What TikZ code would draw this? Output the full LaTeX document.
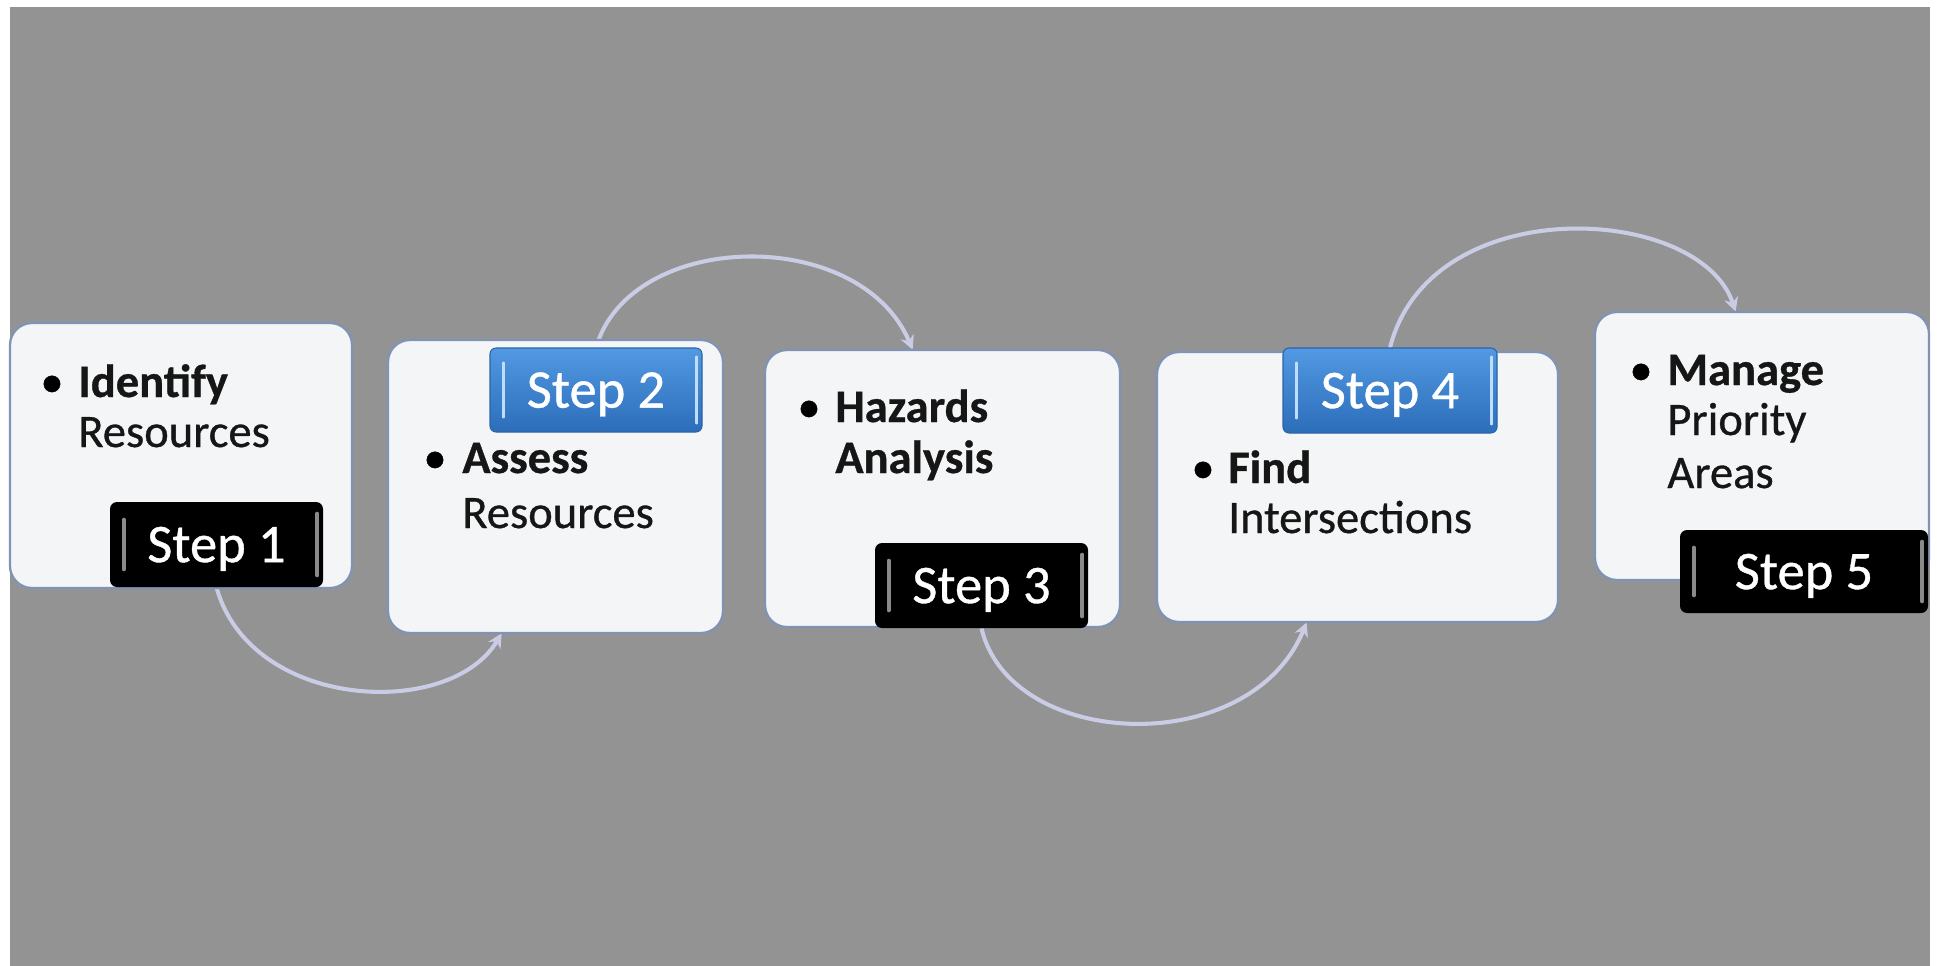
\documentclass[tikz,border=0pt]{standalone}
\usepackage{fontspec}
\setmainfont{Carlito}
\newfontfamily\thickfam{Carlito}[FakeBold=0.7]
\usetikzlibrary{arrows.meta,calc}
\definecolor{bggray}{HTML}{939393}
\definecolor{boxfill}{HTML}{F4F5F7}
\definecolor{boxedge}{HTML}{7F93B5}
\definecolor{bodyink}{HTML}{161616}
\definecolor{flowcol}{HTML}{C9CCE4}
\definecolor{tagbluetop}{HTML}{5299E2}
\definecolor{tagbluebot}{HTML}{2C6DB9}
\definecolor{tagblueedge}{HTML}{2A64A8}
\definecolor{blueshine}{HTML}{BFDDFF}
\definecolor{blackshine}{HTML}{8A8A8A}
\newcommand\mybodyfont{\thickfam\fontsize{26.5}{30}\selectfont}
\newcommand\mytagfont{\thickfam\fontsize{31}{34}\selectfont}
\begin{document}
\begin{tikzpicture}[x=0.02cm,y=-0.02cm,
  stepbox/.style={draw=boxedge, line width=1.3pt, fill=boxfill, rounded corners=0.44cm, inner sep=0pt},
  blacktag/.style={fill=black, rounded corners=0.14cm, text=white, font=\mytagfont, inner sep=0pt, text depth=0pt},
  bluetag/.style={top color=tagbluetop, bottom color=tagbluebot, draw=tagblueedge, line width=0.6pt, rounded corners=0.12cm, text=white, font=\mytagfont, inner sep=0pt, text depth=0pt},
  bshine/.style={draw=blackshine, line width=2.2pt, line cap=round},
  lshine/.style={draw=blueshine, line width=2.2pt, line cap=round},
  bodytext/.style={anchor=base west, inner sep=0pt, font=\mybodyfont, text=bodyink},
  bulletmark/.style={anchor=base, inner sep=0pt, font=\mybodyfont, text=black},
  flow/.style={draw=flowcol, line width=2.3pt, -{Stealth[length=8pt,width=8pt]}}
]
\useasboundingbox (0,0) rectangle (1939,966);
\fill[white] (0,0) rectangle (1939,966);
\fill[bggray] (10,7) rectangle (1930,966);

\path (181,455.5) coordinate (c1) (555.5,486.5) coordinate (c2) (942.5,488.5) coordinate (c3)
      (1357.5,487) coordinate (c4) (1762,446) coordinate (c5);

% invisible placeholders that give the anchors of boxes and tags
\node[inner sep=0pt, minimum width=342*0.02cm, minimum height=265*0.02cm] (B1) at (c1) {};
\node[inner sep=0pt, minimum width=335*0.02cm, minimum height=293*0.02cm] (B2) at (c2) {};
\node[inner sep=0pt, minimum width=355*0.02cm, minimum height=277*0.02cm] (B3) at (c3) {};
\node[inner sep=0pt, minimum width=401*0.02cm, minimum height=270*0.02cm] (B4) at (c4) {};
\node[inner sep=0pt, minimum width=334*0.02cm, minimum height=268*0.02cm] (B5) at (c5) {};
\node[inner sep=0pt, minimum width=213*0.02cm, minimum height=85*0.02cm] (L1) at (216.5,544.5) {};
\node[inner sep=0pt, minimum width=212*0.02cm, minimum height=84*0.02cm] (L2) at (596,390) {};
\node[inner sep=0pt, minimum width=213*0.02cm, minimum height=85*0.02cm] (L3) at (981.5,585.5) {};
\node[inner sep=0pt, minimum width=214*0.02cm, minimum height=85*0.02cm] (L4) at (1390,390.5) {};
\node[inner sep=0pt, minimum width=248*0.02cm, minimum height=83*0.02cm] (L5) at (1804,571.5) {};

% connectors
\draw[flow] (L1.south) .. controls +(34,123) and +(-52,87) .. ($(B2.south west)+(114,0)$);
\draw[flow] (L2.north) .. controls +(34,-118) and +(-53,-125) .. ($(B3.north west)+(148,0)$);
\draw[flow] (L3.south) .. controls +(29,122) and +(-57,138) .. ($(B4.south west)+(150,0)$);
\draw[flow] (L4.north) .. controls +(40,-158) and +(-36,-108) .. ($(B5.north west)+(141,0)$);

% boxes
\node[stepbox, minimum width=342*0.02cm, minimum height=265*0.02cm] (S1) at (c1) {};
\node[stepbox, minimum width=335*0.02cm, minimum height=293*0.02cm] (S2) at (c2) {};
\node[stepbox, minimum width=355*0.02cm, minimum height=277*0.02cm] (S3) at (c3) {};
\node[stepbox, minimum width=401*0.02cm, minimum height=270*0.02cm] (S4) at (c4) {};
\node[stepbox, minimum width=334*0.02cm, minimum height=268*0.02cm] (S5) at (c5) {};

% tags
\node[blacktag, minimum width=213*0.02cm, minimum height=85*0.02cm] (T1) at (L1) {Step 1};
\node[bluetag, minimum width=212*0.02cm, minimum height=84*0.02cm] (T2) at (L2) {Step 2};
\node[blacktag, minimum width=213*0.02cm, minimum height=85*0.02cm] (T3) at (L3) {Step 3};
\node[bluetag, minimum width=214*0.02cm, minimum height=85*0.02cm] (T4) at (L4) {Step 4};
\node[blacktag, minimum width=248*0.02cm, minimum height=83*0.02cm] (T5) at (L5) {Step 5};

% shines
\foreach \t in {T1,T3,T5}{
  \draw[bshine] ($(\t.north west)+(14,18)$) -- ($(\t.south west)+(14,-18)$);
  \draw[bshine] ($(\t.north east)+(-6,12)$) -- ($(\t.south east)+(-6,-12)$);
}
\foreach \t in {T2,T4}{
  \draw[lshine] ($(\t.north west)+(14,16)$) -- ($(\t.south west)+(14,-16)$);
  \draw[lshine] ($(\t.north east)+(-6,10)$) -- ($(\t.south east)+(-6,-10)$);
}

% texts
\node[bulletmark] (u1) at (52,397) {\textbullet};
\node[bodytext] (a1) at (78,397) {\textbf{Identify}};
\node[bodytext] (b1) at (78,447) {Resources};

\node[bulletmark] (u2) at (435,473) {\textbullet};
\node[bodytext] (a2) at (462,473) {\textbf{Assess}};
\node[bodytext] (b2) at (462,528) {Resources};

\node[bulletmark] (u3) at (809,422) {\textbullet};
\node[bodytext] (a3) at (835,422) {\textbf{Hazards}};
\node[bodytext] (b3) at (835,473) {\textbf{Analysis}};

\node[bulletmark] (u4) at (1203,483) {\textbullet};
\node[bodytext] (a4) at (1228,483) {\textbf{Find}};
\node[bodytext] (b4) at (1228,533) {Intersections};

\node[bulletmark] (u5) at (1641,385) {\textbullet};
\node[bodytext] (a5) at (1667,385) {\textbf{Manage}};
\node[bodytext] (b5) at (1667,435) {Priority};
\node[bodytext] (d5) at (1667,488) {Areas};
\end{tikzpicture}
\end{document}
